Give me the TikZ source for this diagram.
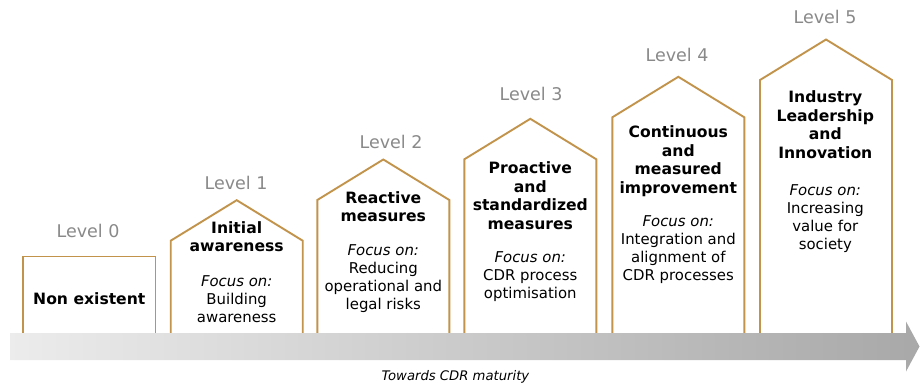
\documentclass[tikz,border=0pt]{standalone}
\usepackage{fontspec}
\setmainfont{DejaVu Sans}
\definecolor{housegold}{RGB}{194,147,74}
\definecolor{levelgray}{RGB}{137,137,137}

\begin{document}
\begin{tikzpicture}[x=1pt, y=-1pt,
    house/.style={draw=housegold, line width=1.9pt, fill=white},
    title/.style={align=center, inner sep=0pt, anchor=north, font=\fontsize{15.6}{18.5}\selectfont\bfseries},
    focus/.style={align=center, inner sep=0pt, anchor=north, font=\fontsize{14.9}{18}\selectfont},
    lvl/.style={text=levelgray, inner sep=0pt, font=\fontsize{17.5}{20}\selectfont}]
    \useasboundingbox (0,0) rectangle (920,387);

    % Stufen
    \draw[house] (23,336) -- (23,256.5) -- (155.5,256.5) -- (155.5,336);
    \foreach \l/\s in {170.7/240.7, 317.3/200, 464.3/159.3, 612.3/117.3, 760/80} {
        \draw[house] (\l,336) -- (\l,\s) -- ({\l+66},{\s-40.5}) -- ({\l+132},\s) -- ({\l+132},336);
    }

    % Beschriftung der Stufen
    \foreach \i/\x/\y in {0/88/231, 1/236/183.3, 2/391/141.7, 3/531/94, 4/677/55, 5/825/17} {
        \node[lvl] (lvl\i) at (\x,\y) {Level \i};
    }

    % Inhalte
    \node[title, anchor=center] (t0) at (89.3,299) {Non existent};

    \node[title] (t1) at (236.7,221) {Initial\\awareness};
    \node[focus] (f1) at (236.7,275.7) {\textit{Focus on:}\\Building\\awareness};

    \node[title] (t2) at (383.3,191.3) {Reactive\\measures};
    \node[focus] (f2) at (383.3,244) {\textit{Focus on:}\\Reducing\\operational and\\legal risks};

    \node[title] (t3) at (530.3,161.7) {Proactive\\and\\standardized\\measures};
    \node[focus] (f3) at (530.3,251.3) {\textit{Focus on:}\\CDR process\\optimisation};

    \node[title] (t4) at (678.3,125.7) {Continuous\\and\\measured\\improvement};
    \node[focus] (f4) at (678.3,215) {\textit{Focus on:}\\Integration and\\alignment of\\CDR processes};

    \node[title] (t5) at (825.3,90.7) {Industry\\Leadership\\and\\Innovation};
    \node[focus] (f5) at (825.3,184) {\textit{Focus on:}\\Increasing\\value for\\society};

    % Pfeil
    \shade[left color=gray!15, right color=gray!68]
        (10,333) -- (906,333) -- (906,321.5) -- (919.5,346.5) -- (906,371.5) -- (906,360) -- (10,360) -- cycle;
    \node[font=\fontsize{13.2}{16}\selectfont\itshape] (axis) at (455.5,376.5) {Towards CDR maturity};
\end{tikzpicture}
\end{document}
